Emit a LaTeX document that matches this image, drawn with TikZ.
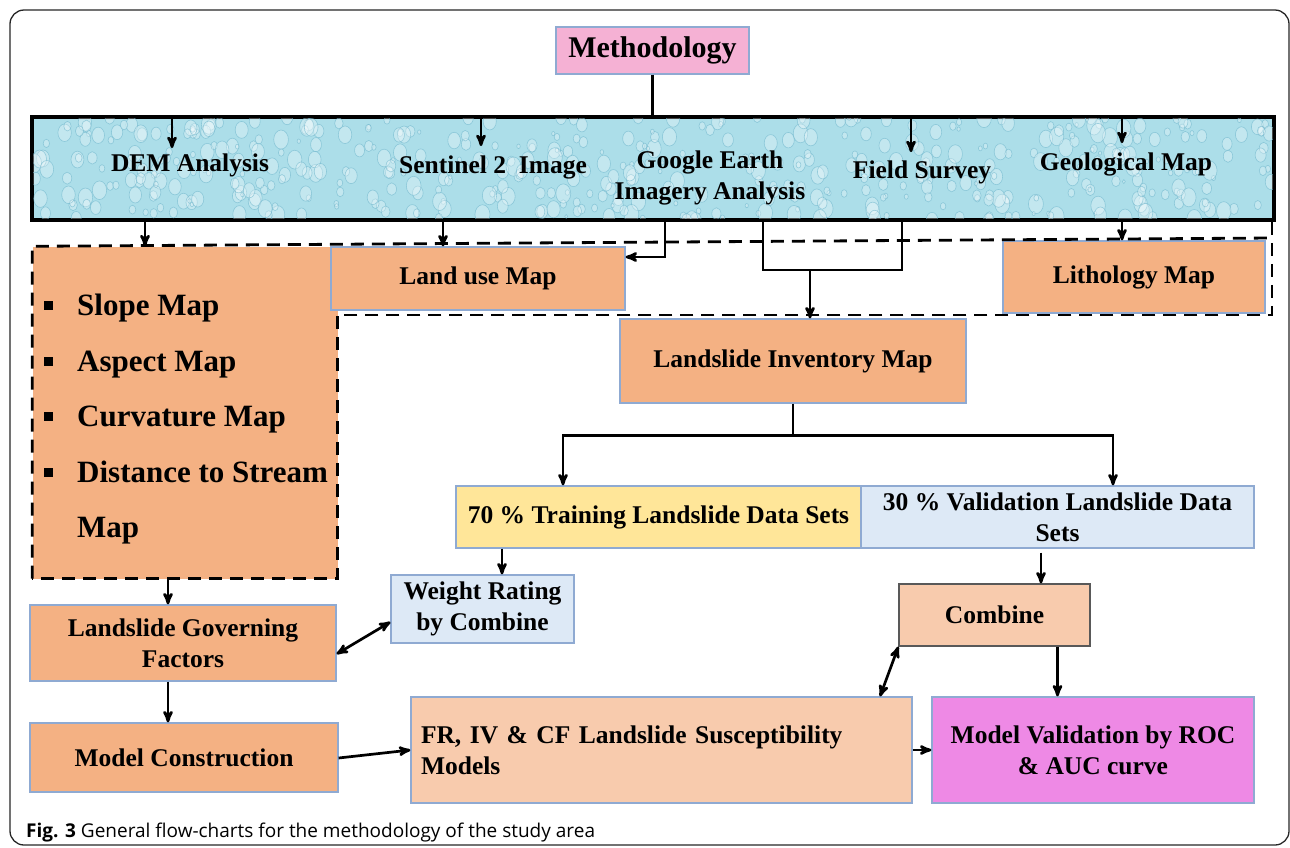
\documentclass[tikz,border=0pt]{standalone}
\usepackage{fontspec}
\setmainfont{Liberation Serif}
\newfontfamily\capfont{Open Sans}
\usetikzlibrary{arrows,positioning}

\definecolor{methpink}{RGB}{245,177,212}
\definecolor{bandblue}{RGB}{172,222,233}
\definecolor{dropline}{RGB}{110,182,204}
\definecolor{boxorange}{RGB}{244,177,131}
\definecolor{lightorange}{RGB}{248,203,173}
\definecolor{trainyellow}{RGB}{255,230,153}
\definecolor{validblue}{RGB}{221,233,246}
\definecolor{rocpink}{RGB}{238,137,229}
\definecolor{boxline}{RGB}{143,170,210}

\tikzset{
  box/.style={draw=boxline, line width=1.2pt, inner sep=0pt, align=center,
    font=\fontsize{25.5}{31}\selectfont\bfseries},
  bandtext/.style={inner sep=5pt, align=center, font=\fontsize{25.5}{31}\selectfont\bfseries},
  flow/.style={->, line width=2.7pt},
  link/.style={line width=2.7pt},
  dashedframe/.style={dash pattern=on 13pt off 8pt, line width=2.8pt},
  drop/.style={draw=dropline, draw opacity=0.6, line width=0.6pt, fill=white, fill opacity=0.28}
}

\begin{document}
\begin{tikzpicture}[x=1pt,y=-1pt,>=stealth']
\useasboundingbox (0,0) rectangle (1290,847);
\clip (0,0) rectangle (1290,847);
\draw[line width=1.3pt, draw=black!85, rounded corners=14pt] (10,10) rectangle (1289,845);

% top of the chart
\node[box, fill=methpink, minimum width=193pt, minimum height=47pt,
  font=\fontsize{30}{36}\selectfont\bfseries] (meth) at (652.5,50.5) {Methodology};
\node[draw=black, line width=3.5pt, fill=bandblue, minimum width=1242pt, minimum height=103pt] (band) at (653,168.5) {};
\begin{scope}
  \clip ([xshift=3pt,yshift=-3pt]band.north west) rectangle ([xshift=-3pt,yshift=3pt]band.south east);
  \pgfmathsetseed{4}
  \foreach \k in {1,...,520}{
    \pgfmathsetmacro{\px}{32+1242*rnd}
    \pgfmathsetmacro{\py}{117+103*rnd}
    \pgfmathsetmacro{\rr}{1.5+6*rnd}
    \draw[drop] (\px,\py) ellipse ({\rr} and {1.3*\rr});
  }
\end{scope}
\node[bandtext, anchor=base] (demt) at (190,171) {DEM Analysis};
\node[bandtext, anchor=base] (sent) at (493,173) {Sentinel 2~ Image};
\node[bandtext] (goog) at (710,178) {Google Earth\\Imagery Analysis};
\node[bandtext, anchor=base] (field) at (922,178) {Field Survey};
\node[bandtext, anchor=base] (geo) at (1126,170) {Geological Map};

% boxes
\node[fill=boxorange, minimum width=305pt, minimum height=332pt, inner sep=0pt] (dem) at (185,412.5) {};
\node[anchor=north west, inner sep=0pt, align=left, font=\fontsize{31}{55.5}\selectfont\bfseries] (demlist) at (44,294)
  {\rule[5.5pt]{9pt}{9pt}\hspace{24pt}Slope Map\\
   \rule[5.5pt]{9pt}{9pt}\hspace{24pt}Aspect Map\\
   \rule[5.5pt]{9pt}{9pt}\hspace{24pt}Curvature Map\\
   \rule[5.5pt]{9pt}{9pt}\hspace{24pt}Distance to Stream\\
   \hspace*{33pt}Map};
\node[box, fill=boxorange, minimum width=294pt, minimum height=63pt] (land) at (478,278.5) {Land use Map};
\node[box, fill=boxorange, minimum width=262pt, minimum height=72pt] (lith) at (1134,277) {Lithology Map};
\node[box, fill=boxorange, minimum width=346pt, minimum height=84pt] (inv) at (793,361) {Landslide Inventory Map};
\node[box, fill=trainyellow, minimum width=405pt, minimum height=62pt] (train) at (658.5,517) {70 \% Training Landslide Data Sets};
\node[box, fill=validblue, minimum width=393pt, minimum height=62pt] (valid) at (1057.5,517) {30 \% Validation Landslide Data\\Sets};
\node[box, fill=validblue, minimum width=183pt, minimum height=68pt] (weight) at (482.5,609) {Weight Rating\\by Combine};
\node[box, fill=lightorange, draw=black!65, minimum width=191pt, minimum height=62pt] (combine) at (994.5,615) {Combine};
\node[box, fill=boxorange, minimum width=306pt, minimum height=76pt] (gov) at (183,643) {Landslide Governing\\Factors};
\node[box, fill=boxorange, minimum width=308pt, minimum height=69pt] (cons) at (184,757.5) {Model Construction};
\node[box, fill=lightorange, minimum width=501pt, minimum height=106pt, align=left, text width=481pt] (susc) at (661.5,750)
  {FR, IV \& CF Landslide Susceptibility\\Models};
\node[box, fill=rocpink, minimum width=322pt, minimum height=106pt] (roc) at (1093,750) {Model Validation by ROC\\\& AUC curve};

% dashed group
\coordinate (dashtr) at (1272,238);
\coordinate (dashbr) at (1272,315);
\draw[dashedframe] (dem.south west) -- (dem.north west) -- (dashtr);
\draw[dashedframe] (dashtr |- band.south) -- (dashbr) -- (dashbr -| dem.east) -- (dem.south east) -- (dem.south west);

% connectors
\draw[link] (meth.south) -- (meth.south |- band.north);
\draw[flow] ([xshift=-18pt]demt.north |- band.north) -- ([xshift=-18pt]demt.north);
\draw[flow] ([xshift=-12pt]sent.north |- band.north) -- ([xshift=-12pt,yshift=4pt]sent.north);
\draw[flow] ([xshift=-11pt]field.north |- band.north) -- ([xshift=-11pt,yshift=3pt]field.north);
\draw[flow] ([xshift=-4pt]geo.north |- band.north) -- ([xshift=-4pt,yshift=4pt]geo.north);

\draw[flow] ([xshift=-40pt]dem.north |- band.south) -- ([xshift=-40pt]dem.north);
\draw[flow] ([xshift=-35pt]land.north |- band.south) -- ([xshift=-35pt]land.north);
\draw[flow] ([xshift=12pt]band.south) |- ([yshift=21.5pt]land.east);
\coordinate (join) at (810,270);
\draw[link] ([xshift=110pt]band.south) |- (join) -| ([xshift=249pt]band.south);
\draw[flow] (join) -- (join |- inv.north);
\draw[flow] ([xshift=469pt]band.south) -- ([xshift=469pt]band.south |- lith.north);

\coordinate (split) at ([yshift=-32pt]inv.south);
\draw[link] (inv.south) -- (split);
\draw[flow] (split) -| ([xshift=-95.5pt]train.north);
\draw[flow] (split) -| ([xshift=55.5pt]valid.north);
\draw[flow] ([xshift=19.5pt]weight.north |- train.south) -- ([xshift=19.5pt]weight.north);
\draw[flow] ([xshift=46.5pt,yshift=-4pt]combine.north |- valid.south) -- ([xshift=46.5pt]combine.north);

\draw[flow] ([xshift=-15pt]gov.north |- dem.south) -- ([xshift=-15pt]gov.north);
\draw[flow] ([xshift=-15pt]gov.south) -- ([xshift=-15pt]gov.south |- cons.north);
\draw[flow, <->] ([yshift=-11pt]gov.east) -- ([yshift=-13pt]weight.west);
\draw[flow] ([yshift=-0.5pt]cons.east) -- (susc.west);
\draw[flow] (susc.east) -- (susc.east -| roc.west);
\draw[flow, <->] ([xshift=218.5pt]susc.north) -- (combine.south west);
\draw[flow] ([xshift=63pt]combine.south) -- ([xshift=63pt]combine.south |- roc.north);

\node[anchor=base west, inner sep=0pt, font=\capfont\fontsize{19}{23}\selectfont] (cap) at (26,837)
  {\textbf{Fig. 3} General flow-charts for the methodology of the study area};
\end{tikzpicture}
\end{document}
